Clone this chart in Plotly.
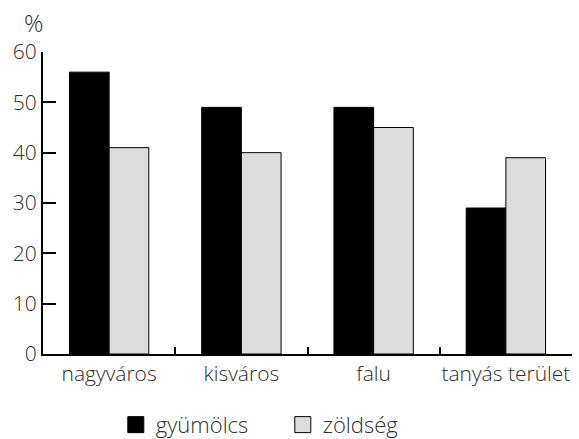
import plotly.graph_objects as go

categories = ["nagyváros", "kisváros", "falu", "tanyás terület"]
gyumolcs = [56, 49, 49, 29]
zoldseg = [41, 40, 45, 39]
y_ticks = [0, 10, 20, 30, 40, 50, 60]

series = [
    ("gyümölcs", gyumolcs, "#000000"),
    ("zöldség", zoldseg, "#dcdcdc"),
]

font_family = "Open Sans, Lato, sans-serif"
text_color = "#2e2e2e"

fig = go.Figure()
for name, values, color in series:
    fig.add_trace(go.Bar(
        name=name, x=categories, y=values, legendgroup=name, showlegend=False,
        marker=dict(color=color, line=dict(color="#000000", width=1)),
    ))
# Legend entries with large square swatches
for name, values, color in series:
    fig.add_trace(go.Scatter(
        name=name, x=[None], y=[None], mode="markers", legendgroup=name,
        marker=dict(symbol="square", size=22, color=color,
                    line=dict(color="#000000", width=1)),
    ))

fig.update_layout(
    width=579, height=439,
    margin=dict(l=43, r=7, t=52, b=85, autoexpand=False),
    paper_bgcolor="white", plot_bgcolor="white",
    barmode="group", bargap=0.4, bargroupgap=0,
    font=dict(family=font_family, size=21, color=text_color, weight=300),
    showlegend=True,
    legend=dict(
        orientation="h", xref="container", yref="paper",
        x=0.2, xanchor="left", y=-0.165, yanchor="top",
        font=dict(size=22, color=text_color, weight=300), itemwidth=30,
        entrywidth=122, entrywidthmode="pixels",
        bgcolor="rgba(0,0,0,0)", itemsizing="trace",
    ),
    annotations=[dict(
        text="%", xref="paper", yref="paper", x=-0.018, y=1.038,
        xanchor="center", yanchor="bottom", showarrow=False,
        font=dict(size=24, color=text_color, weight=300),
    )],
)
fig.update_xaxes(
    type="category", range=[-0.5, 3.5], tickangle=0,
    showline=True, linecolor="#000000", linewidth=2,
    ticks="inside", tickson="boundaries", ticklen=7, tickwidth=2, tickcolor="#000000",
    tickfont=dict(size=21, color=text_color, weight=300), showgrid=False, automargin=False,
)
fig.update_yaxes(
    range=[0, 60], tickvals=y_ticks,
    showline=True, linecolor="#000000", linewidth=2,
    ticks="inside", ticklen=13, tickwidth=2, tickcolor="#000000",
    tickfont=dict(size=21, color=text_color, weight=300), showgrid=False, zeroline=False,
    automargin=False,
)

fig.write_html("out.html")
